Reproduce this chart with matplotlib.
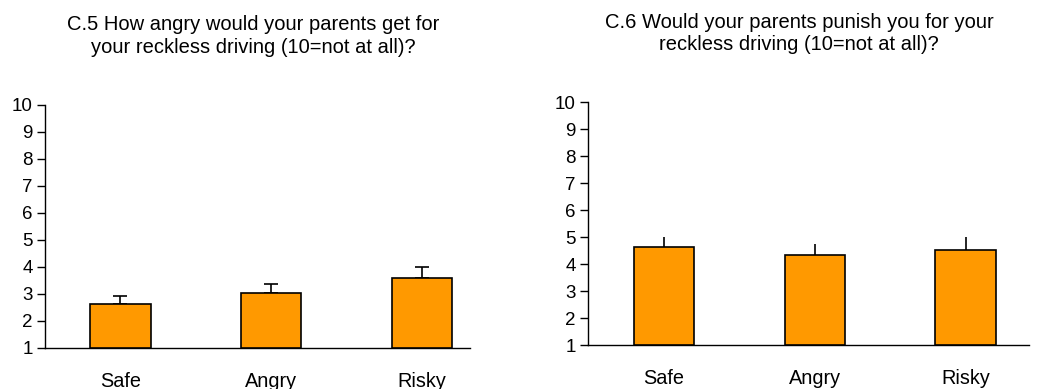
import matplotlib
matplotlib.use('Agg')
import matplotlib.pyplot as plt
import numpy as np

plt.rcParams['font.family'] = 'Liberation Sans'

groups = ['Safe', 'Angry', 'Risky']

# C.5 angry
angry_means = [2.62, 3.02, 3.6]
angry_upper = [2.93, 3.38, 4.01]

# C.6 punish
punish_means = [4.63, 4.32, 4.52]
punish_upper = [5.0, 4.74, 5.0]

title_left = 'C.5 How angry would your parents get for\nyour reckless driving (10=not at all)?'
title_right = 'C.6 Would your parents punish you for your\nreckless driving (10=not at all)?'

bar_color = '#FF9900'

fig = plt.figure(figsize=(10.38, 3.89), dpi=100)
ax1 = fig.add_axes([0.0434, 0.1054, 0.4094, 0.6247])
ax2 = fig.add_axes([0.5668, 0.1131, 0.4245, 0.6240])


def draw(ax, means, upper, xmax, caps):
    x = np.arange(len(groups))
    means = np.array(means)
    upper = np.array(upper)
    ax.bar(x, means - 1, bottom=1, width=0.4, color=bar_color,
           edgecolor='black', linewidth=1.2, zorder=3)
    err = [np.zeros(len(x)), upper - means]
    ax.errorbar(x, means, yerr=err, fmt='none', ecolor='black',
                elinewidth=1.2, capsize=caps, capthick=1.2, zorder=2)
    ax.set_ylim(1, 10)
    ax.set_xlim(-0.5, xmax)
    ax.set_yticks(range(1, 11))
    ax.set_xticks(x)
    ax.set_xticklabels(groups, fontsize=14.3)
    ax.tick_params(axis='x', length=0, pad=17)
    ax.tick_params(axis='y', length=6, width=1, labelsize=13.5, pad=3)
    for s in ['top', 'right']:
        ax.spines[s].set_visible(False)
    for s in ['left', 'bottom']:
        ax.spines[s].set_linewidth(1)


draw(ax1, angry_means, angry_upper, 2.32, 5)
draw(ax2, punish_means, punish_upper, 2.42, 0)

fig.text(0.2437, 0.908, title_left, ha='center', va='center', fontsize=14.5, linespacing=1.25)
fig.text(0.770, 0.914, title_right, ha='center', va='center', fontsize=14.5, linespacing=1.25)

fig.savefig('out.png', dpi=100)
